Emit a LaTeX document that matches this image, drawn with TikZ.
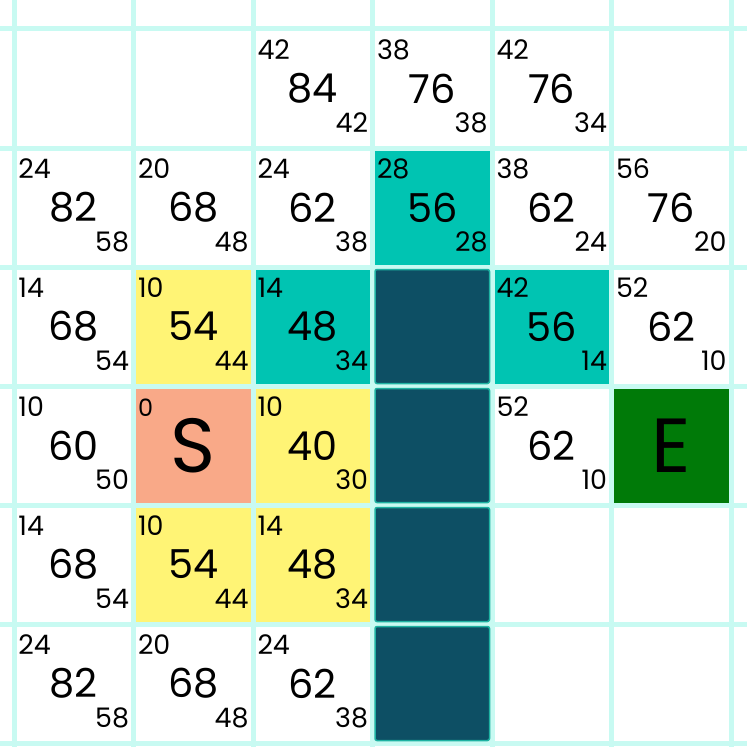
\documentclass[tikz,border=0pt]{standalone}
\usepackage{fontspec}
\setmainfont{Poppins}
\usetikzlibrary{positioning}

\definecolor{gridcyan}{RGB}{200,250,242}
\definecolor{openyellow}{RGB}{255,244,117}
\definecolor{closedteal}{RGB}{0,196,178}
\definecolor{walldark}{RGB}{13,79,100}
\definecolor{wallrim}{RGB}{30,178,162}
\definecolor{startsalmon}{RGB}{249,169,136}
\definecolor{goalgreen}{RGB}{0,122,8}

\begin{document}
\begin{tikzpicture}[
  x=1bp, y=-1bp,
  cell/.style={minimum width=114.5bp, minimum height=114bp, inner sep=0pt,
    font=\fontsize{40}{40}\selectfont},
  open/.style={cell, fill=openyellow},
  closed/.style={cell, fill=closedteal},
  wall/.style={cell, fill=walldark, draw=wallrim, line width=1.5bp,
    rounded corners=2bp},
  start/.style={cell, fill=startsalmon, font=\fontsize{77}{77}\selectfont},
  goal/.style={cell, fill=goalgreen, font=\fontsize{77}{77}\selectfont},
  gline/.style={draw=gridcyan, line width=5bp},
  tlnum/.style={anchor=base west, xshift=2bp, yshift=-28.5bp, inner sep=0pt,
    font=\fontsize{27}{27}\selectfont},
  brnum/.style={anchor=base east, xshift=-2bp, yshift=13.5bp, inner sep=0pt,
    font=\fontsize{27}{27}\selectfont},
  tl/.style={label={[tlnum]north west:#1}},
  br/.style={label={[brnum]south east:#1}},
  tlsmall/.style={label={[tlnum, font=\fontsize{24}{24}\selectfont]north west:#1}},
]

\useasboundingbox[fill=white] (0,0) rectangle (747,747);

% grid lines
\foreach \gx in {14,133.5,253,372.5,492,611.5,731}
  \draw[gline] (\gx,0) -- (\gx,747);
\foreach \gy in {29,148,267,386,505,624,743}
  \draw[gline] (0,\gy) -- (747,\gy);

% row 0
\node[cell, tl=42, br=42] (n02) at (312.75,88.5) {84};
\node[cell, tl=38, br=38] (n03) at (432.25,88.5) {76};
\node[cell, tl=42, br=34] (n04) at (551.75,88.5) {76};

% row 1
\node[cell, tl=24, br=58] (n10) at (73.75,207.5) {82};
\node[cell, tl=20, br=48] (n11) at (193.25,207.5) {68};
\node[cell, tl=24, br=38] (n12) at (312.75,207.5) {62};
\node[closed, tl=28, br=28] (n13) at (432.25,207.5) {56};
\node[cell, tl=38, br=24] (n14) at (551.75,207.5) {62};
\node[cell, tl=56, br=20] (n15) at (671.25,207.5) {76};

% row 2
\node[cell, tl=14, br=54] (n20) at (73.75,326.5) {68};
\node[open, tl=10, br=44] (n21) at (193.25,326.5) {54};
\node[closed, tl=14, br=34] (n22) at (312.75,326.5) {48};
\node[wall] (n23) at (432.25,326.5) {};
\node[closed, tl=42, br=14] (n24) at (551.75,326.5) {56};
\node[cell, tl=52, br=10] (n25) at (671.25,326.5) {62};

% row 3
\node[cell, tl=10, br=50] (n30) at (73.75,445.5) {60};
\node[start, tlsmall=0] (n31) at (193.25,445.5) {S};
\node[open, tl=10, br=30] (n32) at (312.75,445.5) {40};
\node[wall] (n33) at (432.25,445.5) {};
\node[cell, tl=52, br=10] (n34) at (551.75,445.5) {62};
\node[goal] (n35) at (671.25,445.5) {E};

% row 4
\node[cell, tl=14, br=54] (n40) at (73.75,564.5) {68};
\node[open, tl=10, br=44] (n41) at (193.25,564.5) {54};
\node[open, tl=14, br=34] (n42) at (312.75,564.5) {48};
\node[wall] (n43) at (432.25,564.5) {};

% row 5
\node[cell, tl=24, br=58] (n50) at (73.75,683.5) {82};
\node[cell, tl=20, br=48] (n51) at (193.25,683.5) {68};
\node[cell, tl=24, br=38] (n52) at (312.75,683.5) {62};
\node[wall] (n53) at (432.25,683.5) {};

\end{tikzpicture}
\end{document}
